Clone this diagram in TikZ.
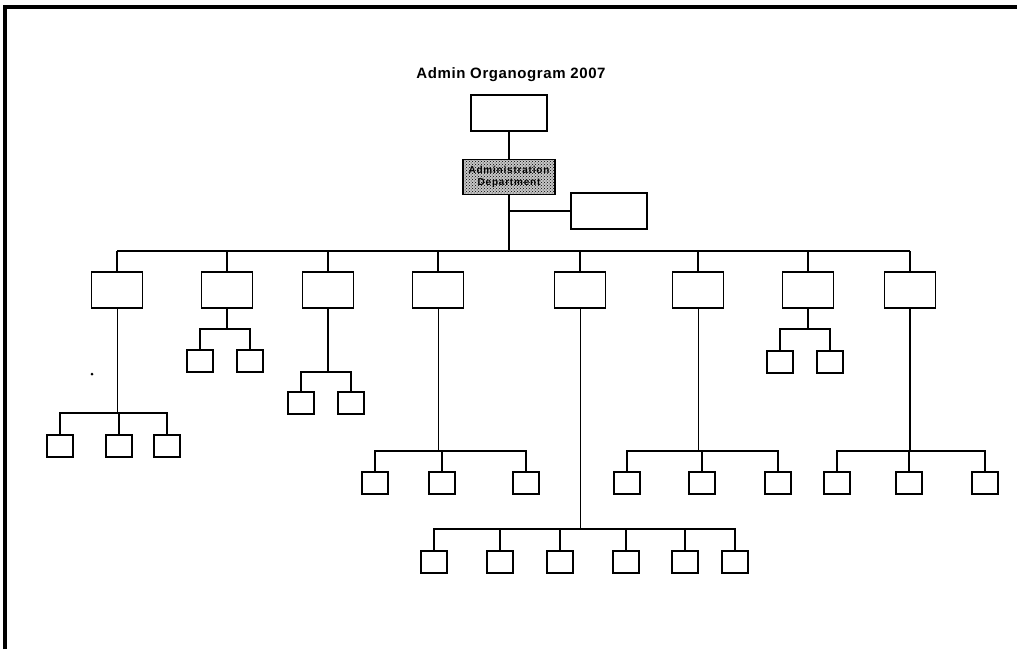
\documentclass[tikz,border=0pt]{standalone}
\usepackage{fontspec}
\setmainfont{Liberation Sans}
\usetikzlibrary{patterns}
\begin{document}
\begin{tikzpicture}[x=1pt,y=-1pt,
  bigbox/.style={draw, line width=1.4pt, minimum width=51pt, minimum height=36pt, inner sep=0pt},
  smallbox/.style={draw, line width=1.4pt, minimum width=26pt, minimum height=22pt, inner sep=0pt},
  conn/.style={line width=1.4pt},
  thinconn/.style={line width=0.8pt}]
\useasboundingbox (0,0) rectangle (1017,649);
% frame
\draw[line width=3.5pt] (5,649) -- (5,7) -- (1017,7);
% title
\node[font=\bfseries\fontsize{15}{17}\selectfont\addfontfeature{LetterSpace=4}] (title) at (511,75) {Admin Organogram 2007};
% top
\node[bigbox, minimum width=76pt] (top) at (509,113) {};
\node[draw, line width=1.4pt, minimum width=92pt, minimum height=35pt, inner sep=0pt,
      preaction={fill=black!22}, pattern=crosshatch dots, pattern color=black, align=center,
      font=\bfseries\fontsize{10}{12}\selectfont\addfontfeature{LetterSpace=8}] (admin) at (509,177) {Administration\\Department};
\node[bigbox, minimum width=76pt] (side) at (609,211) {};
\coordinate (mainbar) at (0,251);
\coordinate (sidej) at (0,211);
\draw[conn] (top.south) -- (admin.north);
\draw[conn] (admin.south) -- (admin.south |- mainbar);
\draw[conn] (admin.south |- sidej) -- (side.west);
% level 1
\foreach \n/\x in {p1/117,p2/227,p3/328,p4/438,p5/580,p6/698,p7/808,p8/910}
  \node[bigbox] (\n) at (\x,290) {};
\draw[conn] (p1.north |- mainbar) -- (p8.north |- mainbar);
\foreach \n in {p1,p2,p3,p4,p5,p6,p7,p8}
  \draw[conn] (\n.north) -- (\n.north |- mainbar);
% level 2
% p1
\coordinate (b1) at (0,413);
\foreach \i/\x in {1/60,2/119,3/167} \node[smallbox] (a\i) at (\x,446) {};
\draw[thinconn] (p1.south) -- (p1.south |- b1);
\draw[conn] (a1.north) -- (a1.north |- b1) -- (a3.north |- b1) -- (a3.north);
\draw[conn] (a2.north) -- (a2.north |- b1);
% p2
\coordinate (b2) at (0,329);
\foreach \i/\x in {1/200,2/250} \node[smallbox] (bb\i) at (\x,361) {};
\draw[conn] (p2.south) -- (p2.south |- b2);
\draw[conn] (bb1.north) -- (bb1.north |- b2) -- (bb2.north |- b2) -- (bb2.north);
% p3
\coordinate (b3) at (0,372);
\foreach \i/\x in {1/301,2/351} \node[smallbox] (c\i) at (\x,403) {};
\draw[conn] (p3.south) -- (p3.south |- b3);
\draw[conn] (c1.north) -- (c1.north |- b3) -- (c2.north |- b3) -- (c2.north);
% p4
\coordinate (b4) at (0,451);
\foreach \i/\x in {1/375,2/442,3/526} \node[smallbox] (d\i) at (\x,483) {};
\draw[thinconn] (p4.south) -- (p4.south |- b4);
\draw[conn] (d1.north) -- (d1.north |- b4) -- (d3.north |- b4) -- (d3.north);
\draw[conn] (d2.north) -- (d2.north |- b4);
% p5
\coordinate (b5) at (0,529);
\foreach \i/\x in {1/434,2/500,3/560,4/626,5/685,6/735} \node[smallbox] (e\i) at (\x,562) {};
\draw[thinconn] (p5.south) -- (p5.south |- b5);
\draw[conn] (e1.north) -- (e1.north |- b5) -- (e6.north |- b5) -- (e6.north);
\foreach \i in {2,3,4,5} \draw[conn] (e\i.north) -- (e\i.north |- b5);
% p6
\coordinate (b6) at (0,451);
\foreach \i/\x in {1/627,2/702,3/778} \node[smallbox] (f\i) at (\x,483) {};
\draw[thinconn] (p6.south) -- (p6.south |- b6);
\draw[conn] (f1.north) -- (f1.north |- b6) -- (f3.north |- b6) -- (f3.north);
\draw[conn] (f2.north) -- (f2.north |- b6);
% p7
\coordinate (b7) at (0,329);
\foreach \i/\x in {1/780,2/830} \node[smallbox] (g\i) at (\x,362) {};
\draw[conn] (p7.south) -- (p7.south |- b7);
\draw[conn] (g1.north) -- (g1.north |- b7) -- (g2.north |- b7) -- (g2.north);
% p8
\coordinate (b8) at (0,451);
\foreach \i/\x in {1/837,2/909,3/985} \node[smallbox] (h\i) at (\x,483) {};
\draw[conn] (p8.south) -- (p8.south |- b8);
\draw[conn] (h1.north) -- (h1.north |- b8) -- (h3.north |- b8) -- (h3.north);
\draw[conn] (h2.north) -- (h2.north |- b8);
% speck
\fill (92,374) circle (1.5pt);
\end{tikzpicture}
\end{document}
